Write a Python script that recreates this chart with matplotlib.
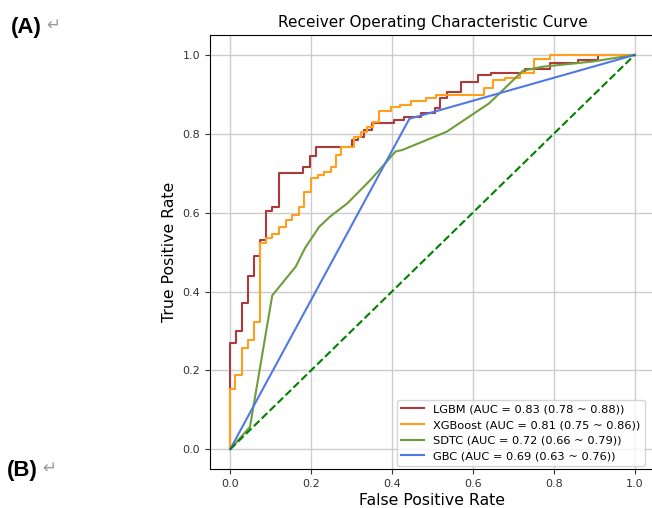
import matplotlib
matplotlib.use('Agg')
import matplotlib.pyplot as plt

# ROC curve points (fpr at each jump, tpr after the jump)
lgbm_fpr = [0.0, 0.0, 0.014, 0.030, 0.045, 0.059, 0.073, 0.088, 0.104, 0.121,
            0.180, 0.197, 0.213, 0.300, 0.315, 0.330, 0.351, 0.405, 0.430,
            0.471, 0.506, 0.519, 0.535, 0.570, 0.612, 0.645, 0.730, 0.790,
            0.860, 0.910, 1.0]
lgbm_tpr = [0.0, 0.27, 0.30, 0.37, 0.44, 0.49, 0.53, 0.605, 0.615, 0.70,
            0.716, 0.744, 0.766, 0.784, 0.793, 0.81, 0.827, 0.835, 0.843,
            0.852, 0.865, 0.89, 0.907, 0.932, 0.949, 0.955, 0.965, 0.979,
            0.987, 1.0, 1.0]

xgb_fpr = [0.0, 0.0, 0.012, 0.029, 0.045, 0.059, 0.073, 0.088, 0.104, 0.121,
           0.137, 0.154, 0.170, 0.183, 0.199, 0.216, 0.232, 0.249, 0.261,
           0.273, 0.306, 0.323, 0.339, 0.352, 0.368, 0.397, 0.420, 0.446,
           0.483, 0.509, 0.627, 0.650, 0.680, 0.716, 0.750, 0.790, 1.0]
xgb_tpr = [0.0, 0.154, 0.188, 0.256, 0.277, 0.323, 0.522, 0.535, 0.547, 0.564,
           0.581, 0.594, 0.615, 0.653, 0.687, 0.695, 0.704, 0.716, 0.746,
           0.767, 0.793, 0.805, 0.816, 0.830, 0.857, 0.869, 0.873, 0.882,
           0.890, 0.899, 0.915, 0.937, 0.941, 0.953, 0.990, 1.0, 1.0]

sdtc_fpr = [0.0, 0.049, 0.104, 0.162, 0.185, 0.220, 0.247, 0.290, 0.347,
            0.409, 0.426, 0.535, 0.640, 0.724, 0.773, 0.895, 1.0]
sdtc_tpr = [0.0, 0.057, 0.390, 0.463, 0.510, 0.564, 0.590, 0.624, 0.683,
            0.755, 0.759, 0.805, 0.877, 0.960, 0.970, 0.983, 1.0]

gbc_fpr = [0.0, 0.443, 1.0]
gbc_tpr = [0.0, 0.838, 1.0]

labels = ['LGBM (AUC = 0.83 (0.78 ~ 0.88))',
          'XGBoost (AUC = 0.81 (0.75 ~ 0.86))',
          'SDTC (AUC = 0.72 (0.66 ~ 0.79))',
          'GBC (AUC = 0.69 (0.63 ~ 0.76))']
colors = ['#ad3a3a', '#ff9f1c', '#6e9e3a', '#5079e6']

fig = plt.figure(figsize=(6.52, 5.08), dpi=100)
ax = fig.add_axes([0.322, 0.0768, 0.6825, 0.854])

ax.plot(lgbm_fpr, lgbm_tpr, drawstyle='steps-post', color=colors[0], lw=1.5, label=labels[0])
ax.plot(xgb_fpr, xgb_tpr, drawstyle='steps-post', color=colors[1], lw=1.5, label=labels[1])
ax.plot(sdtc_fpr, sdtc_tpr, color=colors[2], lw=1.5, label=labels[2])
ax.plot(gbc_fpr, gbc_tpr, color=colors[3], lw=1.5, label=labels[3])
ax.plot([0, 1], [0, 1], color='green', lw=1.5, ls='--')

ax.set_xlim(-0.05, 1.05)
ax.set_ylim(-0.05, 1.05)
ax.set_xticks([0, 0.2, 0.4, 0.6, 0.8, 1.0])
ax.set_yticks([0, 0.2, 0.4, 0.6, 0.8, 1.0])
ax.tick_params(labelsize=8, colors='#333333')
ax.grid(True, color='#cccccc', lw=1)
ax.set_xlabel('False Positive Rate', fontsize=11.3, labelpad=3)
ax.set_ylabel('True Positive Rate', fontsize=11.3)
ax.set_title('Receiver Operating Characteristic Curve', fontsize=11)
ax.legend(loc='lower right', fontsize=8.2, borderaxespad=0,
          bbox_to_anchor=(645 / 652, 1 - 466 / 508), bbox_transform=fig.transFigure)

# panel markers
fig.text(0.016, 0.946, '(A)', fontsize=16, fontweight='bold', family='Liberation Sans', va='center')
fig.text(0.071, 0.952, '\u21b5', fontsize=12, color='#999999', va='center')
fig.text(0.010, 0.073, '(B)', fontsize=16, fontweight='bold', family='Liberation Sans', va='center')
fig.text(0.064, 0.079, '\u21b5', fontsize=12, color='#999999', va='center')

fig.savefig('out.png', dpi=100)
